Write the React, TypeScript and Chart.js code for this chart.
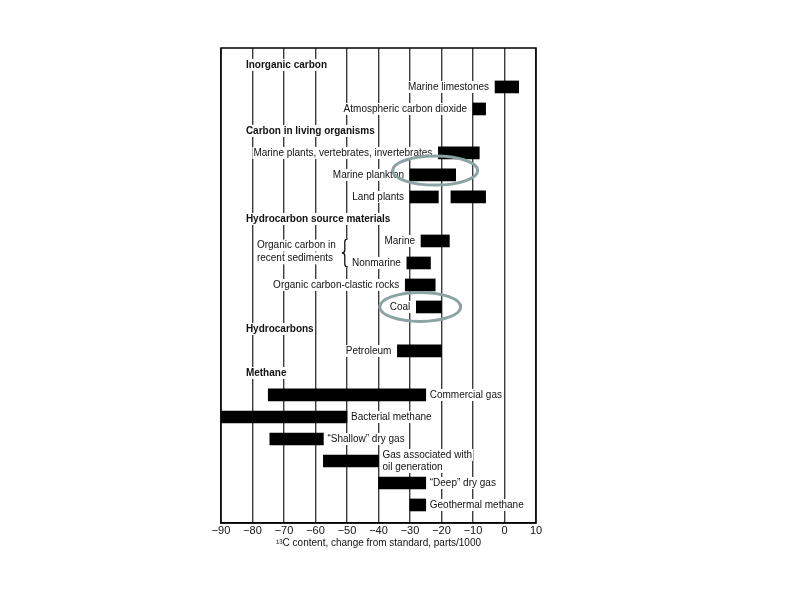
import React, { useEffect, useRef } from 'react';
import { Chart, registerables } from 'chart.js';

Chart.register(...registerables);

// ---- Data ----
const headerLabels = ['Inorganic carbon', 'Carbon in living organisms', 'Hydrocarbon source materials', 'Hydrocarbons', 'Methane'];
const headerRows = [0, 3, 7, 12, 14];

const barLabels = [
  'Marine limestones',
  'Atmospheric carbon dioxide',
  'Marine plants, vertebrates, invertebrates',
  'Marine plankton',
  'Land plants',
  '',
  'Marine',
  'Nonmarine',
  'Organic carbon-clastic rocks',
  'Coal',
  'Petroleum',
  'Commercial gas',
  'Bacterial methane',
  '\u201CShallow\u201D dry gas',
  'Gas associated with\noil generation',
  '\u201CDeep\u201D dry gas',
  'Geothermal methane',
];
const barRows = [1, 2, 4, 5, 6, 6, 8, 9, 10, 11, 13, 15, 16, 17, 18, 19, 20];
const barStarts = [-3, -10, -21, -30, -30, -17, -26.5, -31, -31.5, -28, -34, -75, -90, -74.5, -57.5, -40, -30];
const barEnds = [4.5, -6, -8, -15.5, -21, -6, -17.5, -23.5, -22, -20, -20, -25, -50, -57.5, -40, -25, -25];
const labelSides = ['left', 'left', 'left', 'left', 'left', 'left', 'left', 'left', 'left', 'left', 'left', 'right', 'right', 'right', 'right', 'right', 'right'];

const xMin = -90;
const xMax = 10;
const xStep = 10;
const xTitle = '\u00B9\u00B3C content, change from standard, parts/1000';

const bracketLines = ['Organic carbon in', 'recent sediments'];
const bracketRows = [8, 9];

// highlighted groups (ellipses): x extent in axis units, centre row
const highlightFrom = [-35.5, -39.6];
const highlightTo = [-8.5, -13.9];
const highlightRows = [4.8, 11];

const FONT = "'Liberation Sans', Arial, Helvetica, sans-serif";

function knockText(ctx: any, text: string, x: number, y: number) {
  const w = ctx.measureText(text).width;
  let left = x;
  if (ctx.textAlign === 'right') left = x - w;
  else if (ctx.textAlign === 'center') left = x - w / 2;
  const fs = ctx.fillStyle;
  ctx.fillStyle = '#fff';
  ctx.fillRect(left - 1, y - 6, w + 2, 12);
  ctx.fillStyle = fs;
  ctx.fillText(text, x, y);
}

const overlayPlugin = {
  id: 'overlay',
  afterDatasetsDraw(chart: any) {
    const { ctx, chartArea, scales } = chart;
    const xs = scales.x;
    const ys = scales.y;
    ctx.save();

    ctx.fillStyle = '#111';
    ctx.textBaseline = 'middle';

    // headers
    ctx.font = `bold 10px ${FONT}`;
    ctx.textAlign = 'left';
    const hx = xs.getPixelForValue(-82.1);
    headerLabels.forEach((t, i) => {
      knockText(ctx, t, hx, ys.getPixelForValue(headerRows[i]));
    });

    // bar labels
    ctx.font = `10px ${FONT}`;
    const meta = chart.getDatasetMeta(0);
    barLabels.forEach((t, i) => {
      if (!t) return;
      const el: any = meta.data[i];
      const l = Math.min(el.x, el.base);
      const r = Math.max(el.x, el.base);
      const lines = t.split('\n');
      const lh = 12;
      const y0 = el.y - ((lines.length - 1) * lh) / 2;
      if (labelSides[i] === 'left') {
        ctx.textAlign = 'right';
        lines.forEach((ln, k) => knockText(ctx, ln, l - 6, y0 + k * lh));
      } else {
        ctx.textAlign = 'left';
        lines.forEach((ln, k) => knockText(ctx, ln, r + 4, y0 + k * lh));
      }
    });

    // bracket text + brace
    const yA = ys.getPixelForValue(bracketRows[0]);
    const yB = ys.getPixelForValue(bracketRows[1]);
    const ym = (yA + yB) / 2;
    ctx.textAlign = 'left';
    const tx = xs.getPixelForValue(-78.6);
    knockText(ctx, bracketLines[0], tx, ym - 6.4);
    knockText(ctx, bracketLines[1], tx, ym + 6.4);
    const bx = xs.getPixelForValue(-50.7);
    const top = ym - 13;
    const bot = ym + 15;
    const mid = (top + bot) / 2;
    const w = 3;
    ctx.fillStyle = '#fff';
    ctx.fillRect(bx - w - 1, top - 1, 2 * w + 2, bot - top + 2);
    ctx.beginPath();
    ctx.moveTo(bx + w, top);
    ctx.quadraticCurveTo(bx, top, bx, top + w);
    ctx.lineTo(bx, mid - w);
    ctx.quadraticCurveTo(bx, mid, bx - w, mid);
    ctx.quadraticCurveTo(bx, mid, bx, mid + w);
    ctx.lineTo(bx, bot - w);
    ctx.quadraticCurveTo(bx, bot, bx + w, bot);
    ctx.strokeStyle = '#111';
    ctx.lineWidth = 1.3;
    ctx.stroke();

    // frame
    ctx.strokeStyle = '#000';
    ctx.lineWidth = 1.5;
    ctx.strokeRect(chartArea.left, chartArea.top, chartArea.right - chartArea.left, chartArea.bottom - chartArea.top);

    // ellipses
    ctx.strokeStyle = '#8ca3a3';
    ctx.lineWidth = 3;
    highlightRows.forEach((row, i) => {
      const x1 = xs.getPixelForValue(highlightFrom[i]);
      const x2 = xs.getPixelForValue(highlightTo[i]);
      const cy = ys.getPixelForValue(row);
      ctx.beginPath();
      ctx.ellipse((x1 + x2) / 2, cy, (x2 - x1) / 2, 14.5, 0, 0, Math.PI * 2);
      ctx.stroke();
    });

    ctx.restore();
  },
};

export default function App() {
  const ref = useRef<HTMLCanvasElement>(null);
  useEffect(() => {
    const canvas = ref.current;
    if (!canvas) return;
    const chart = new Chart(canvas, {
      type: 'bar',
      data: {
        datasets: [
          {
            data: barRows.map((r, i) => ({ x: [barStarts[i], barEnds[i]], y: r })) as any,
            backgroundColor: '#000',
            borderWidth: 0,
            barThickness: 12,
          },
        ],
      },
      options: {
        indexAxis: 'y',
        animation: false,
        responsive: false,
        layout: { padding: { left: 221, right: 258, top: 48, bottom: 0 } },
        plugins: { legend: { display: false }, tooltip: { enabled: false } },
        scales: {
          x: {
            type: 'linear',
            min: xMin,
            max: xMax,
            afterFit: (s: any) => {
              s.height = 72;
            },
            ticks: {
              stepSize: xStep,
              autoSkip: false,
              maxRotation: 0,
              padding: 1,
              color: '#111',
              font: { family: FONT, size: 11 },
              callback: (v: any) => (Number(v) < 0 ? '\u2212' + Math.abs(Number(v)) : String(v)),
            },
            grid: { color: '#3c3c3c', lineWidth: 1.4, drawTicks: false },
            border: { display: true, color: '#000', width: 1.5 },
            title: {
              display: true,
              text: xTitle,
              color: '#111',
              font: { family: FONT, size: 10 },
              padding: { top: 3, bottom: 46 },
            },
          },
          y: {
            type: 'linear',
            min: -0.77,
            max: 20.82,
            reverse: true,
            offset: false,
            display: false,
          },
        },
      } as any,
      plugins: [overlayPlugin],
    });
    return () => chart.destroy();
  }, []);
  return (
    <canvas
      ref={ref}
      width={794}
      height={595}
      style={{ position: 'fixed', left: 0, top: 0, width: 794, height: 595, background: '#fff' }}
    />
  );
}
